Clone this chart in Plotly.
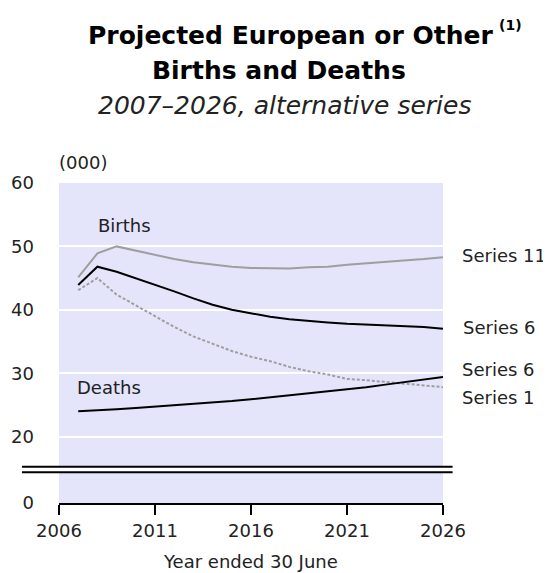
import plotly.graph_objects as go

years = list(range(2007, 2027))
births_series11 = [45.1, 48.9, 50.0, 49.3, 48.6, 48.0, 47.5, 47.1, 46.8, 46.6,
                   46.5, 46.5, 46.7, 46.8, 47.1, 47.3, 47.6, 47.8, 48.0, 48.3]
births_series6 = [43.9, 46.8, 46.0, 45.0, 43.9, 42.9, 41.8, 40.8, 40.0, 39.4,
                  38.9, 38.5, 38.2, 38.0, 37.8, 37.7, 37.5, 37.4, 37.3, 37.0]
births_series1 = [43.1, 45.0, 42.4, 40.7, 38.9, 37.3, 35.8, 34.6, 33.5, 32.6,
                  31.9, 31.0, 30.3, 29.8, 29.1, 28.9, 28.6, 28.3, 28.0, 27.8]
deaths_series6 = [24.0, 24.1, 24.3, 24.5, 24.7, 24.9, 25.2, 25.4, 25.6, 25.9,
                  26.2, 26.5, 26.8, 27.1, 27.5, 27.8, 28.2, 28.6, 29.0, 29.4]

x_tickvals = [2006, 2011, 2016, 2021, 2026]
y_bottom = 9.53
y_tickvals = [y_bottom, 20, 30, 40, 50, 60]
y_ticktext = ["0", "20", "30", "40", "50", "60"]
break_lo, break_hi = 14.37, 15.26

FONT = "DejaVu Sans"
GRAY = "#9E9E9E"

fig = go.Figure()
fig.add_trace(go.Scatter(x=years, y=births_series11, mode="lines",
                         line=dict(color=GRAY, width=2), showlegend=False))
fig.add_trace(go.Scatter(x=years, y=births_series1, mode="lines",
                         line=dict(color=GRAY, width=2, dash="3px,2px"), showlegend=False))
fig.add_trace(go.Scatter(x=years, y=births_series6, mode="lines",
                         line=dict(color="black", width=2), showlegend=False))
fig.add_trace(go.Scatter(x=years, y=deaths_series6, mode="lines",
                         line=dict(color="black", width=2), showlegend=False))

# axis break
fig.add_shape(type="rect", xref="paper", yref="y", x0=0, x1=1, y0=break_lo, y1=break_hi,
              fillcolor="white", line=dict(width=0), layer="above")
for yv in (break_lo, break_hi):
    fig.add_shape(type="line", xref="paper", yref="y", x0=-0.0964, x1=1.025, y0=yv, y1=yv,
                  line=dict(color="black", width=2), layer="above")

# page pixel helpers (plot area spans x 59..443, y 183..503 on the page)
def py2paper(py):
    return (503 - py) / 320.0

def px2paper(px):
    return (px - 59) / 384.0

annos = [
    dict(text="<b>Projected European or Other</b>", x=px2paper(290), y=py2paper(36),
         font=dict(size=25, family=FONT, color="black")),
    dict(text="<b>(1)</b>", x=px2paper(497), y=py2paper(25), xanchor="left",
         font=dict(size=14, family=FONT, color="black")),
    dict(text="<b>Births and Deaths</b>", x=px2paper(278.5), y=py2paper(71),
         font=dict(size=25, family=FONT, color="black")),
    dict(text="<i>2007–2026, alternative series</i>", x=px2paper(284), y=py2paper(105),
         font=dict(size=25, family=FONT, color="#222")),
    dict(text="(000)", x=px2paper(57), y=py2paper(162), xanchor="left",
         font=dict(size=18, family=FONT, color="#222")),
    dict(text="Year ended 30 June", x=px2paper(250), y=py2paper(561),
         font=dict(size=18, family=FONT, color="#222")),
    dict(text="Series 11", x=px2paper(460), y=py2paper(255.7), xanchor="left",
         font=dict(size=18, family=FONT, color="#222")),
    dict(text="Series 6", x=px2paper(461), y=py2paper(327.5), xanchor="left",
         font=dict(size=18, family=FONT, color="#222")),
    dict(text="Series 6", x=px2paper(460), y=py2paper(369.5), xanchor="left",
         font=dict(size=18, family=FONT, color="#222")),
    dict(text="Series 1", x=px2paper(460), y=py2paper(397.5), xanchor="left",
         font=dict(size=18, family=FONT, color="#222")),
]
for a in annos:
    a.setdefault("xanchor", "center")
    fig.add_annotation(xref="paper", yref="paper", yanchor="middle", showarrow=False, **a)

data_labels = [
    ("Births", 2009.41, 53.27),
    ("Deaths", 2008.58, 27.76),
]
for txt, xv, yv in data_labels:
    fig.add_annotation(x=xv, y=yv, xref="x", yref="y", text=txt, showarrow=False,
                       xanchor="center", yanchor="middle",
                       font=dict(size=18, family=FONT, color="#222"))

# the page body adds an 8px margin, so the figure is 8px smaller on each axis
fig.update_layout(
    width=543, height=565,
    margin=dict(l=51, r=108, t=175, b=70, autoexpand=False),
    paper_bgcolor="white", plot_bgcolor="#E4E4FB",
    font=dict(family=FONT, size=18, color="#222"),
    xaxis=dict(range=[2006, 2026], tickvals=x_tickvals, showgrid=False, zeroline=False,
               showline=True, linecolor="black", linewidth=2, ticks="outside",
               ticklen=10, tickwidth=2, tickcolor="black", automargin=False,
               tickfont=dict(size=18, family=FONT, color="#222")),
    yaxis=dict(range=[y_bottom, 60], tickvals=y_tickvals, ticktext=y_ticktext,
               showgrid=True, gridcolor="white", gridwidth=2, zeroline=False,
               showline=False, ticks="", ticklabelstandoff=24, automargin=False,
               tickfont=dict(size=18, family=FONT, color="#222")),
)

fig.write_html("out.html")
